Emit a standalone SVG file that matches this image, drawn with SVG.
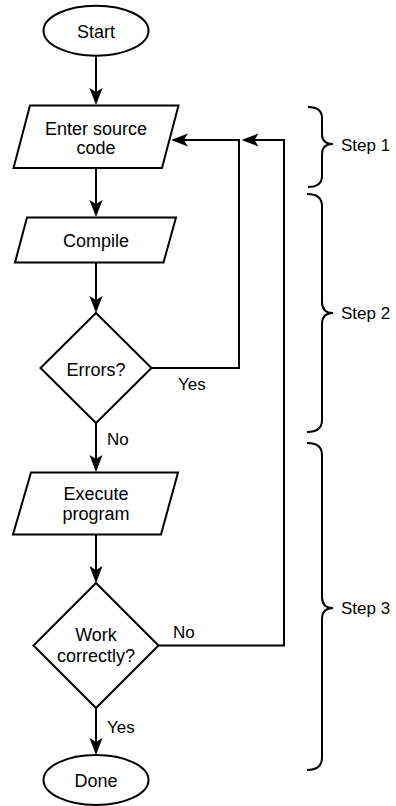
<svg xmlns="http://www.w3.org/2000/svg" width="396" height="806" viewBox="0 0 396 806">
  <style>
    .shape { fill: #ffffff; stroke: #000000; stroke-width: 2; }
    .conn { fill: none; stroke: #000000; stroke-width: 2; }
    .brace { fill: none; stroke: #000000; stroke-width: 2; }
    text { font-family: "Liberation Sans", Arial, Helvetica, sans-serif; fill: #000000; }
    .nt { font-size: 18px; text-anchor: middle; }
    .lbl { font-size: 17px; }
    .step { font-size: 17px; }
  </style>
  <defs>
    <marker id="arr" markerUnits="userSpaceOnUse" markerWidth="20" markerHeight="20" refX="0" refY="0" orient="auto" overflow="visible">
      <path d="M13,0 L-4,-6.5 L0,0 L-4,6.5 Z" fill="#000000" stroke="none"/>
    </marker>
  </defs>
  <rect x="0" y="0" width="396" height="806" fill="#ffffff"/>

  <g id="connectors">
    <line class="conn" x1="96" y1="56" x2="96" y2="92" marker-end="url(#arr)"/>
    <line class="conn" x1="96" y1="168" x2="96" y2="204" marker-end="url(#arr)"/>
    <line class="conn" x1="96" y1="262.5" x2="96" y2="300" marker-end="url(#arr)"/>
    <line class="conn" x1="96" y1="423" x2="96" y2="459" marker-end="url(#arr)"/>
    <line class="conn" x1="96" y1="534.5" x2="96" y2="570" marker-end="url(#arr)"/>
    <line class="conn" x1="96" y1="708" x2="96" y2="742" marker-end="url(#arr)"/>
    <polyline class="conn" points="151.5,368 239,368 239,140 184,140" marker-end="url(#arr)"/>
    <polyline class="conn" points="158,645.5 284,645.5 284,140 254.5,140" marker-end="url(#arr)"/>
    <text class="lbl" x="178" y="390">Yes</text>
    <text class="lbl" x="107" y="445">No</text>
    <text class="lbl" x="173" y="638">No</text>
    <text class="lbl" x="107" y="733">Yes</text>
  </g>

  <g id="start">
    <ellipse class="shape" cx="96" cy="30.7" rx="52.5" ry="25"/>
    <text class="nt" x="96" y="37.5">Start</text>
  </g>

  <g id="enter">
    <polygon class="shape" points="30,105.5 178.5,105.5 162,168 13.5,168"/>
    <text class="nt" x="96" y="135">Enter source</text>
    <text class="nt" x="96" y="154">code</text>
  </g>

  <g id="compile">
    <polygon class="shape" points="27,217.5 176,217.5 163.5,262.5 15,262.5"/>
    <text class="nt" x="96" y="247">Compile</text>
  </g>

  <g id="errors">
    <polygon class="shape" points="96,313 151.5,368 96,423 40.5,368"/>
    <text class="nt" x="96" y="375.5">Errors?</text>
  </g>

  <g id="execute">
    <polygon class="shape" points="31,472.5 178,472.5 161,534.5 13,534.5"/>
    <text class="nt" x="96" y="499.5">Execute</text>
    <text class="nt" x="96" y="520">program</text>
  </g>

  <g id="work">
    <polygon class="shape" points="96,583 158.5,645.5 96,708 33.5,645.5"/>
    <text class="nt" x="96" y="641">Work</text>
    <text class="nt" x="96" y="661.5">correctly?</text>
  </g>

  <g id="done">
    <ellipse class="shape" cx="96" cy="780" rx="52.5" ry="25"/>
    <text class="nt" x="96" y="787">Done</text>
  </g>

  <g id="step1">
    <path class="brace" d="M308,107 Q322,107 322,118 L322,134 Q322,144 333,144 Q322,144 322,154 L322,176 Q322,187 308,187"/>
    <text class="step" x="341" y="151">Step 1</text>
  </g>

  <g id="step2">
    <path class="brace" d="M307,194 Q322,194 322,206 L322,302 Q322,313 333,313 Q322,313 322,324 L322,420 Q322,432 307,432"/>
    <text class="step" x="341" y="319">Step 2</text>
  </g>

  <g id="step3">
    <path class="brace" d="M307,443 Q322,443 322,455 L322,597 Q322,608 333,608 Q322,608 322,619 L322,758 Q322,770 307,770"/>
    <text class="step" x="341" y="614">Step 3</text>
  </g>
</svg>
